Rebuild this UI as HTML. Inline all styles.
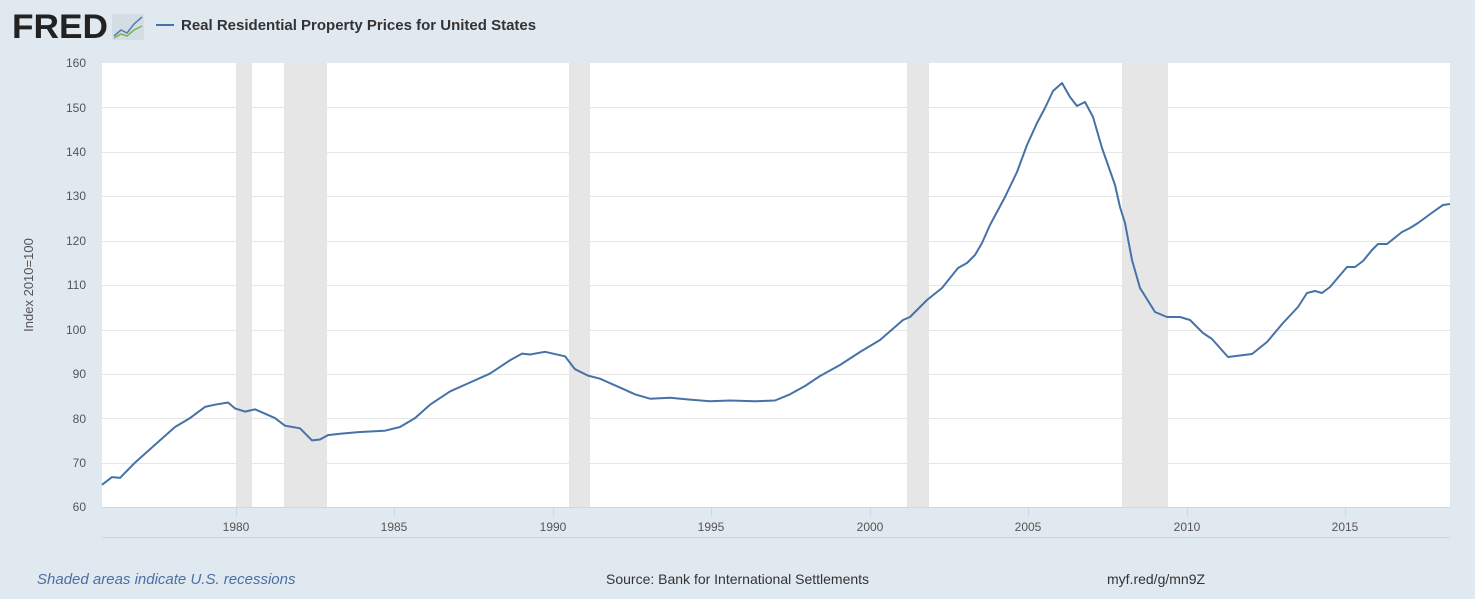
<!DOCTYPE html>
<html><head><meta charset="utf-8"><style>
body{margin:0;background:#e1e9f0;width:1475px;height:594px;overflow:hidden;font-family:"Liberation Sans",sans-serif;}
</style></head><body>
<svg width="1475" height="594" xmlns="http://www.w3.org/2000/svg" font-family="Liberation Sans, sans-serif">
<rect width="1475" height="594" fill="#e1e9f0"/>
<text x="12" y="38" font-size="34" font-weight="bold" fill="#222" textLength="96" lengthAdjust="spacingAndGlyphs">FRED</text>
<rect x="112" y="14" width="32" height="26" fill="#d5dde4" rx="2"/>
<polyline points="114,36 121,30 127,33 134,24 142,17" fill="none" stroke="#4f7fb4" stroke-width="1.5"/>
<polyline points="114,38 121,34 127,36 134,30 142,26" fill="none" stroke="#7ab648" stroke-width="1.5"/>
<line x1="156" y1="25" x2="174" y2="25" stroke="#4572a7" stroke-width="2"/>
<text x="181" y="30" font-size="15" font-weight="bold" fill="#333">Real Residential Property Prices for United States</text>
<rect x="102" y="63" width="1348" height="444" fill="#fff"/>
<g fill="#e6e6e6">
<rect x="236" y="63" width="16" height="444"/><rect x="284" y="63" width="43" height="444"/>
<rect x="569" y="63" width="21" height="444"/><rect x="907" y="63" width="22" height="444"/>
<rect x="1122" y="63" width="46" height="444"/>
</g>
<g stroke="#e6e6e6" stroke-width="1">
<line x1="102" x2="1450" y1="107.5" y2="107.5"/><line x1="102" x2="1450" y1="152.5" y2="152.5"/>
<line x1="102" x2="1450" y1="196.5" y2="196.5"/><line x1="102" x2="1450" y1="241.5" y2="241.5"/>
<line x1="102" x2="1450" y1="285.5" y2="285.5"/><line x1="102" x2="1450" y1="330.5" y2="330.5"/>
<line x1="102" x2="1450" y1="374.5" y2="374.5"/><line x1="102" x2="1450" y1="418.5" y2="418.5"/>
<line x1="102" x2="1450" y1="463.5" y2="463.5"/>
</g>
<line x1="102" x2="1450" y1="507.5" y2="507.5" stroke="#ccd6eb"/>
<line x1="102" x2="1450" y1="537.5" y2="537.5" stroke="#ccd6eb"/>
<g stroke="#ccd6eb"><line x1="236.5" x2="236.5" y1="507" y2="516"/><line x1="394.5" x2="394.5" y1="507" y2="516"/><line x1="553.5" x2="553.5" y1="507" y2="516"/><line x1="711.5" x2="711.5" y1="507" y2="516"/><line x1="870.5" x2="870.5" y1="507" y2="516"/><line x1="1028.5" x2="1028.5" y1="507" y2="516"/><line x1="1187.5" x2="1187.5" y1="507" y2="516"/><line x1="1345.5" x2="1345.5" y1="507" y2="516"/></g>
<g font-size="12" fill="#555" text-anchor="end">
<text x="86" y="67">160</text><text x="86" y="112">150</text><text x="86" y="156">140</text><text x="86" y="200">130</text><text x="86" y="245">120</text><text x="86" y="289">110</text><text x="86" y="334">100</text><text x="86" y="378">90</text><text x="86" y="423">80</text><text x="86" y="467">70</text><text x="86" y="511">60</text>
</g>
<g font-size="12" fill="#555" text-anchor="middle">
<text x="236" y="531">1980</text><text x="394" y="531">1985</text><text x="553" y="531">1990</text><text x="711" y="531">1995</text><text x="870" y="531">2000</text><text x="1028" y="531">2005</text><text x="1187" y="531">2010</text><text x="1345" y="531">2015</text>
</g>
<text transform="translate(33,285) rotate(-90)" font-size="13" fill="#555" text-anchor="middle">Index 2010=100</text>
<polyline fill="none" stroke="#4572a7" stroke-width="2" stroke-linejoin="round" points="
102,484.8 112,477.1 120,477.9 135,462.6 155,444.8 175,427 190,418.1 205,406.9 215,404.7 228,402.5 235,408.4 245,411.6 255,409.3 275,418.1 285,425.7 300,428.3 312,440.4 320,439.5 328,435.1 340,433.8 360,432 385,430.7 400,427 415,418.1 430,404.7 450,391.4 470,382.5 490,373.6 510,360.3 522,353.6 530,354.5 545,351.8 565,356.3 575,369.2 588,375.6 600,378.7 620,387.6 635,394.3 650,398.7 670,397.8 690,399.6 710,401.3 730,400.5 755,401.3 775,400.5 790,394.3 805,386 820,376 840,365 860,352 880,340 903,320 910,317 927,300 942,288 958,268 967,263 975,255 982,243 990,225 1005,197 1017,172 1027,145 1037,123 1045,108 1053,91 1062,83 1070,97 1077,106 1085,102 1093,117 1102,148 1115,185 1120,207 1125,223 1132,260 1140,288 1155,312 1167,317 1180,317 1190,320 1203,333 1212,339 1228,357 1252,354 1267,342 1283,323 1298,307 1307,293 1315,291 1322,293 1330,287 1347,267 1355,267 1363,261 1372,250 1378,244 1387,244 1402,232 1410,228 1418,223 1433,212 1443,205 1450,204"/>
<text x="37" y="584" font-size="15" font-style="italic" fill="#4a6fa5">Shaded areas indicate U.S. recessions</text>
<text x="606" y="584" font-size="14" fill="#333">Source: Bank for International Settlements</text>
<text x="1107" y="584" font-size="14" fill="#333">myf.red/g/mn9Z</text>
</svg>
</body></html>
